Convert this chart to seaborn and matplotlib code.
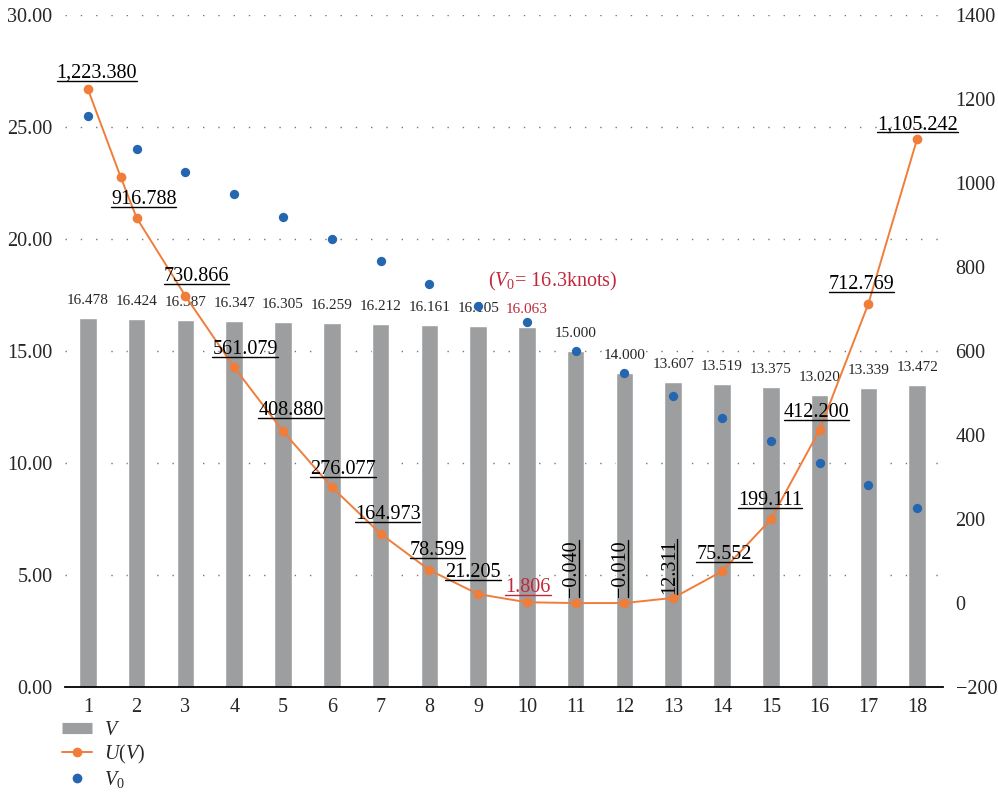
import numpy as np
import pandas as pd
import matplotlib.pyplot as plt
import seaborn as sns
from matplotlib.lines import Line2D
from matplotlib.ticker import FormatStrFormatter, MultipleLocator

# Dados
idx = list(range(1, 19))
v = [16.478, 16.424, 16.387, 16.347, 16.305, 16.259, 16.212, 16.161, 16.105,
     16.063, 15.000, 14.000, 13.607, 13.519, 13.375, 13.020, 13.339, 13.472]
v0 = [25.5, 24, 23, 22, 21, 20, 19, 18, 17, 16.3, 15, 14, 13, 12, 11, 10, 9, 8]
u_x = [1, 1.67, 2, 3, 4, 5, 6, 7, 8, 9, 10, 11, 12, 13, 14, 15, 16, 17, 18]
u_val = [1223.380, 1015, 916.788, 730.866, 561.079, 408.880, 276.077, 164.973,
         78.599, 21.205, 1.806, -0.040, -0.010, 12.311, 75.552, 199.111,
         412.200, 712.769, 1105.242]
u_lab = ["1,223.380", "", "916.788", "730.866", "561.079", "408.880", "276.077",
         "164.973", "78.599", "21.205", "1.806", "\u22120.040", "\u22120.010",
         "12.311", "75.552", "199.111", "412.200", "712.769", "1,105.242"]

# Cores
GRAY = "#9d9e9f"
ORANGE = "#f07d3a"
BLUE = "#2566b0"
RED = "#c1273d"

sns.set_style("white")
plt.rcParams["font.family"] = ["Liberation Serif", "DejaVu Serif"]
plt.rcParams["mathtext.fontset"] = "custom"
plt.rcParams["mathtext.rm"] = "Liberation Serif"
plt.rcParams["mathtext.it"] = "Liberation Serif:italic"

fig = plt.figure(figsize=(9.98, 7.95), dpi=100)
ax = fig.add_axes([0.0651, 0.1358, 0.8798, 0.8453])

# Barras V
sns.barplot(x=idx, y=v, native_scale=True, width=0.36, color=GRAY,
            saturation=1, ax=ax, zorder=2)
labels = ax.bar_label(ax.containers[0], labels=[f"{x:.3f}" for x in v],
                      padding=8, fontsize=11)
labels[9].set_color(RED)

# Pontos V0
sns.scatterplot(x=idx, y=v0, color=BLUE, s=45, linewidth=0, ax=ax, zorder=3)

ax.set_xlim(0.53, 18.53)
ax.set_ylim(0, 30)
ax.set_xticks(idx)
ax.yaxis.set_major_locator(MultipleLocator(5))
ax.yaxis.set_major_formatter(FormatStrFormatter("%.2f"))
ax.set_axisbelow(True)
ax.yaxis.grid(True, linestyle=(0, (1, 10)), color="#777777", linewidth=1)
ax.tick_params(axis="both", length=0, labelsize=14.5)
ax.tick_params(axis="y", pad=9)
ax.tick_params(axis="x", pad=8)
for s in ["top", "left", "right"]:
    ax.spines[s].set_visible(False)
ax.spines["bottom"].set_color("black")
ax.spines["bottom"].set_linewidth(1.3)
ax.set_xlabel("")
ax.set_ylabel("")

ax.text(10.53, 18.1, r"($V_{\mathit{0}}$= 16.3knots)", color=RED,
        ha="center", va="center", fontsize=14.5)

# Linha U(V)
ax2 = ax.twinx()
sns.lineplot(x=u_x, y=u_val, ax=ax2, color=ORANGE, marker="o", markersize=7,
             markeredgewidth=0, linewidth=1.4)
ax2.set_ylim(-200, 1400)
ax2.yaxis.set_major_locator(MultipleLocator(200))
ax2.tick_params(axis="y", length=0, labelsize=14.5, pad=9)
for s in ax2.spines.values():
    s.set_visible(False)
ax2.set_ylabel("")

# deslocamentos dos rótulos (pixels)
dx = [9, 0, 7, 11, 11, 8, 11, 7, 8, -5, 1, -4, -4, -4, 2, -1, -3, -7, 0]
dy = [16, 0, 18, 20, 18, 21, 18, 19, 20, 22, 15, 6, 6, 4, 17, 19, 17, 19, 14]
u_texts = []
for i, (x, y, lab) in enumerate(zip(u_x, u_val, u_lab)):
    if not lab:
        continue
    col = RED if i == 10 else "black"
    if i in (11, 12, 13):
        t = ax2.annotate(lab, (x, y), xytext=(dx[i], dy[i]),
                         textcoords="offset pixels", ha="center", va="bottom",
                         rotation=90, fontsize=14.5, color=col)
    else:
        t = ax2.annotate(lab, (x, y), xytext=(dx[i], dy[i]),
                         textcoords="offset pixels", ha="center", va="center",
                         fontsize=14.5, color=col)
    u_texts.append((t, i in (11, 12, 13), col))

# Legenda
handles = [
    Line2D([], [], color=GRAY, linewidth=8, solid_capstyle="butt"),
    Line2D([], [], color=ORANGE, linewidth=1.4, marker="o", markersize=7,
           markeredgewidth=0),
    Line2D([], [], color=BLUE, linewidth=0, marker="o", markersize=7,
           markeredgewidth=0),
]
fig.legend(handles, [r"$V$", r"$U(V)$", r"$V_{\mathit{0}}$"],
           loc="upper left", bbox_to_anchor=(0.052, 0.106), frameon=False,
           fontsize=14.5, labelspacing=0.15, handlelength=1.5,
           handletextpad=0.6, borderpad=0)

# Sublinhado dos rótulos de U(V)
fig.canvas.draw()
renderer = fig.canvas.get_renderer()
inv = fig.transFigure.inverted()
for t, vert, col in u_texts:
    bb = t.get_window_extent(renderer)
    if vert:
        p = inv.transform([[bb.x1 - 2, bb.y0], [bb.x1 - 2, bb.y1]])
    else:
        p = inv.transform([[bb.x0, bb.y0 + 2], [bb.x1, bb.y0 + 2]])
    fig.add_artist(Line2D(p[:, 0], p[:, 1], color=col, linewidth=1,
                          transform=fig.transFigure))

fig.savefig("out.png", dpi=100)
